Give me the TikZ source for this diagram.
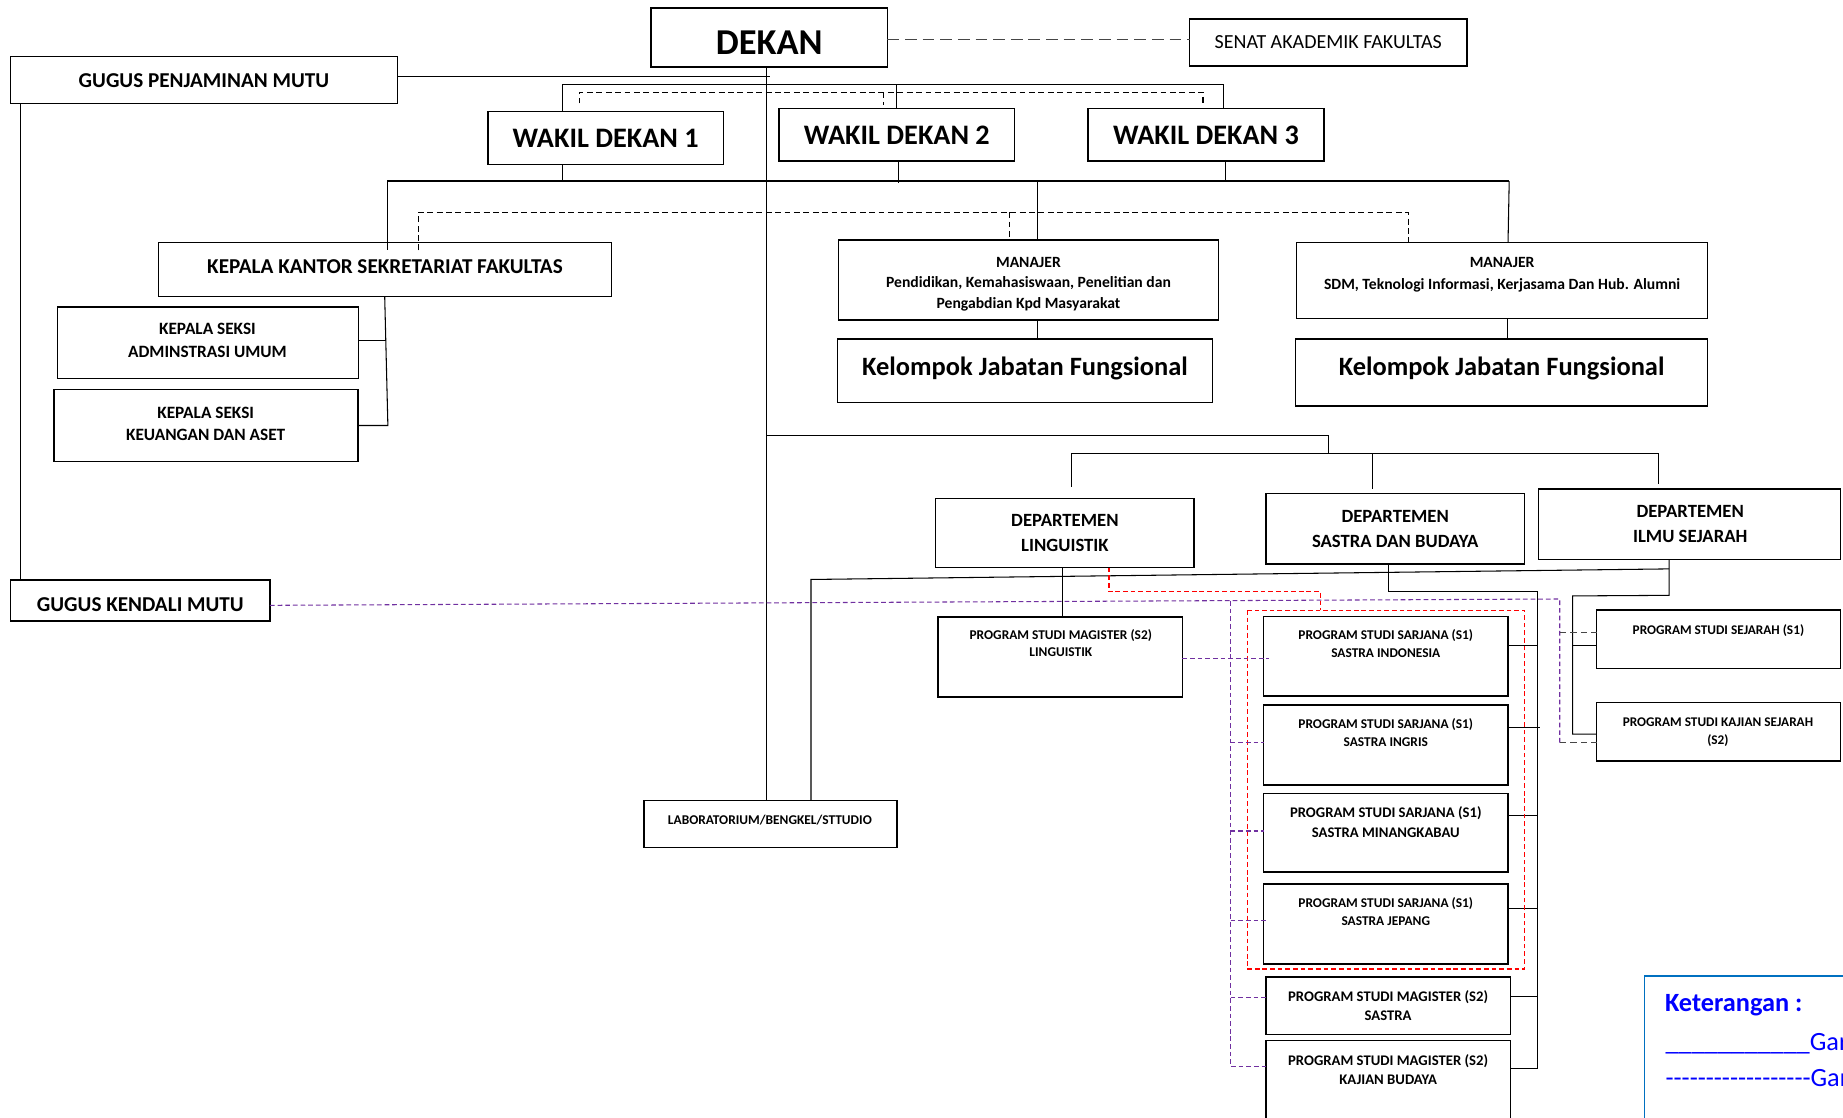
\documentclass[tikz,border=0pt]{standalone}
\usepackage{fontspec}
\setmainfont{Carlito}
\definecolor{purp}{RGB}{112,48,160}
\definecolor{redd}{RGB}{255,0,0}
\definecolor{dgray}{RGB}{70,70,70}
\definecolor{ketblue}{RGB}{0,0,255}
\definecolor{ketbox}{RGB}{0,112,192}
% box: [opts]{name}{x1}{y1}{x2}{y2}
\newcommand\bx[6][]{\node[bx, minimum width={#5-#3}, minimum height={#6-#4}, #1] (#2) at ({(#3+#5)/2},{-(#4+#6)/2}) {};}
% text line: [opts]{name}{x}{cap centre y}{size}{text}
\newcommand\tl[6][]{\node[tl, font=\fontsize{#5}{#5}\selectfont\bfseries, #1] (#2) at (#3,{-(#4+0.316*#5)}) {#6};}
\newcommand\hy{\mbox{-}}
\begin{document}
\begin{tikzpicture}[x=1pt,y=1pt,line width=0.9pt,
  bx/.style={draw, line width=1.3pt, inner sep=0pt, outer sep=0pt},
  tl/.style={anchor=base, inner sep=0pt, outer sep=0pt},
  dshtop/.style={dgray, dash pattern=on 10pt off 5pt},
  dshk/.style={black, dash pattern=on 5pt off 3pt},
  gdsh/.style={dgray, dash pattern=on 5.5pt off 3.5pt},
  pdsh/.style={purp, dash pattern=on 4pt off 2.5pt},
  rdsh/.style={redd, dash pattern=on 4pt off 2.5pt}]
\useasboundingbox (0,0) rectangle (1568,-951);
\clip (0,0) rectangle (1568,-951);

% ---------- boxes ----------
\bx{dekan}{554}{7}{755}{57}
\bx{senat}{1012}{16}{1248}{56}
\bx{gpm}{9}{48}{338}{88}
\bx{wd1}{415}{95}{615.5}{139.8}
\bx{wd2}{662.6}{92.2}{863.2}{137}
\bx{wd3}{925.8}{92.2}{1126.5}{137}
\bx{kksf}{134.8}{206.2}{520.3}{252.4}
\bx{ksadm}{48.9}{261}{305}{321.9}
\bx{kskeu}{45.9}{331.2}{304.6}{392.8}
\bx{man1}{713.5}{204.2}{1036.6}{272.3}
\bx{man2}{1103.2}{206.5}{1452.7}{270.8}
\bx{kjf1}{712.4}{288.4}{1031.6}{342.6}
\bx{kjf2}{1102.2}{288.4}{1452.7}{345.2}
\bx{gkm}{9}{493.5}{229.7}{528.4}
\bx{lab}{548}{681}{763}{721}
\bx{dling}{796}{424}{1016}{483}
\bx{dsas}{1077}{420}{1297}{480}
\bx{dsej}{1309}{416}{1566}{476}
\bx{s2ling}{798}{525}{1006}{593}
\bx{s1indo}{1075}{524.7}{1283}{592}
\bx{s1ing}{1075}{600}{1283}{668}
\bx{s1min}{1075}{675}{1283}{742}
\bx{s1jep}{1075}{752}{1283}{820}
\bx{s2sas}{1077}{831}{1285}{880}
\bx{s2kb}{1077}{885.4}{1285}{965}
\bx{sejs1}{1358.4}{519}{1566}{568.6}
\bx{kajsej}{1358.4}{597.8}{1566}{647.4}
\bx[draw=ketbox, line width=1.2pt]{ket}{1399}{830.4}{1620}{990}

% ---------- texts ----------
\tl{t-dekan}{654.5}{36.8}{31}{DEKAN}
\tl[font=\fontsize{17}{17}\selectfont]{t-senat}{1130}{35.9}{17}{SENAT AKADEMIK FAKULTAS}
\tl{t-gpm}{173.5}{68.5}{18}{GUGUS PENJAMINAN MUTU}
\tl{t-wd1}{515.3}{118}{24}{WAKIL DEKAN 1}
\tl{t-wd2}{763}{115.5}{24}{WAKIL DEKAN 2}
\tl{t-wd3}{1026}{115}{24}{WAKIL DEKAN 3}
\tl{t-kksf}{327.5}{227}{18}{KEPALA KANTOR SEKRETARIAT FAKULTAS}
\tl{t-ksadm1}{176.5}{280.3}{14.7}{KEPALA SEKSI}
\tl{t-ksadm2}{176.5}{299.5}{14.7}{ADMINSTRASI UMUM}
\tl{t-kskeu1}{175}{351}{14.7}{KEPALA SEKSI}
\tl{t-kskeu2}{175}{370.4}{14.7}{KEUANGAN DAN ASET}
\tl{t-man1a}{875}{223.3}{13.3}{MANAJER}
\tl{t-man1b}{875}{240}{13.3}{Pendidikan, Kemahasiswaan, Penelitian dan}
\tl{t-man1c}{875}{258}{13.3}{Pengabdian Kpd Masyarakat}
\tl{t-man2a}{1278}{223.8}{13.3}{MANAJER}
\tl{t-man2b}{1278}{242.5}{13.3}{SDM, Teknologi Informasi, Kerjasama Dan Hub. Alumni}
\tl{t-kjf1}{872}{312}{22.5}{Kelompok Jabatan Fungsional}
\tl{t-kjf2}{1277.5}{312}{22.5}{Kelompok Jabatan Fungsional}
\tl{t-gkm}{119.4}{514.7}{18}{GUGUS KENDALI MUTU}
\tl{t-lab}{655}{697.6}{11.4}{LABORATORIUM/BENGKEL/STTUDIO}
\tl{t-dling1}{906}{443}{15.9}{DEPARTEMEN}
\tl{t-dling2}{906}{464}{15.9}{LINGUISTIK}
\tl{t-dsas1}{1187}{439.3}{15.9}{DEPARTEMEN}
\tl{t-dsas2}{1187}{460.4}{15.9}{SASTRA DAN BUDAYA}
\tl{t-dsej1}{1438}{435}{15.9}{DEPARTEMEN}
\tl{t-dsej2}{1438}{456.3}{15.9}{ILMU SEJARAH}
\tl{t-s2ling1}{902.5}{540.7}{11.4}{PROGRAM STUDI MAGISTER (S2)}
\tl{t-s2ling2}{902.5}{555.1}{11.4}{LINGUISTIK}
\tl{t-s1indo1}{1179}{540.2}{11.4}{PROGRAM STUDI SARJANA (S1)}
\tl{t-s1indo2}{1179}{555.4}{11.4}{SASTRA INDONESIA}
\tl{t-s1ing1}{1179}{616.2}{11.4}{PROGRAM STUDI SARJANA (S1)}
\tl{t-s1ing2}{1179}{631.3}{11.4}{SASTRA INGRIS}
\tl{t-s1min1}{1179}{691.4}{12.5}{PROGRAM STUDI SARJANA (S1)}
\tl{t-s1min2}{1179}{708.3}{12.5}{SASTRA MINANGKABAU}
\tl{t-s1jep1}{1179}{768.3}{11.4}{PROGRAM STUDI SARJANA (S1)}
\tl{t-s1jep2}{1179}{783.8}{11.4}{SASTRA JEPANG}
\tl{t-s2sas1}{1181}{848.4}{12.5}{PROGRAM STUDI MAGISTER (S2)}
\tl{t-s2sas2}{1181}{864.2}{12.5}{SASTRA}
\tl{t-s2kb1}{1181}{902.3}{12.5}{PROGRAM STUDI MAGISTER (S2)}
\tl{t-s2kb2}{1181}{918.3}{12.5}{KAJIAN BUDAYA}
\tl{t-sejs1}{1462}{536}{11.3}{PROGRAM STUDI SEJARAH (S1)}
\tl{t-kajsej1}{1461.6}{614.8}{11.3}{PROGRAM STUDI KAJIAN SEJARAH}
\tl{t-kajsej2}{1461.6}{629.6}{11.3}{(S2)}
\tl[anchor=base west, text=ketblue]{t-ket}{1416.6}{853.9}{22.4}{Keterangan :}
\node[anchor=base west, inner sep=0pt, text=ketblue, font=\fontsize{22.4}{22.4}\selectfont] (t-ket1) at (1416.6,-894) {\_\_\_\_\_\_\_\_\_\_\_Gar};
\node[anchor=base west, inner sep=0pt, text=ketblue, font=\fontsize{22.4}{22.4}\selectfont] (t-ket2) at (1416.6,-924.6) {\hy\hy\hy\hy\hy\hy\hy\hy\hy\hy\hy\hy\hy\hy\hy\hy\hy\hy Gar};

% ---------- connectors ----------
\coordinate (trk) at (652.4,0);
\draw[dshtop] (dekan.east |- 0,-34) -- (senat.west |- 0,-34);
\draw (dekan.south -| trk) -- (lab.north -| trk);
\draw (gpm.east |- 0,-65) -- (655,-65);
\draw (gpm.south -| 17.5,0) -- (gkm.north -| 17.5,0);

% wakil dekan bracket
\draw (wd1.north -| 478.4,0) |- (1041,-71.7) -- (wd3.north -| 1041,0);
\draw (762.5,-71.7) -- (wd2.north -| 762.5,0);
\draw[dshk] (492.8,-88) -- (492.8,-78.6) -- (1023.5,-78.6) -- (1023.5,-88);
\draw[dshk] (751.9,-78.6) -- (751.9,-89);

% bus under wakil dekan
\draw (329.5,-154) -- (1284,-154);
\draw (wd1.south -| 478.4,0) -- (478.4,-154);
\draw (wd2.south -| 764.4,0) -- (764.4,-156);
\draw (wd3.south -| 1043,0) -- (1043,-154);
\draw (329.5,-154) -- (329.5,-213);
\draw (883,-155) -- (man1.north -| 883,0);
\draw (1284,-154) -- (man2.north -| 1283,0);
\draw[dshk] (356,-213) -- (356,-180.5) -- (1198,-180.5) -- (1198,-208);
\draw[dshk] (859,-180.5) -- (man1.north -| 859,0);

% secretariat
\draw (kksf.south -| 327.3,0) -- (330,-362) -- (kskeu.east |- 0,-362);
\draw (ksadm.east |- 0,-290) -- (328.6,-290);

% managers
\draw (man1.south -| 883,0) -- (kjf1.north -| 883,0);
\draw (man2.south -| 1282.5,0) -- (kjf2.north -| 1282.5,0);

% departments
\draw (trk |- 0,-370.5) -- (1130,-370.5) -- (1130,-385.5);
\draw (912,-385.5) -- (1411,-385.5);
\draw (912,-385.5) -- (912,-414);
\draw (1168,-385.5) -- (1168,-416);
\draw (1411,-385.5) -- (1411,-412);

\draw (dling.south -| 904,0) -- (s2ling.north -| 904,0);

% sejarah
\draw (dsej.south -| 1420,0) -- (1420,-506.5) -- (1338,-507) -- (1338,-624.5) -- (kajsej.west |- 0,-624.5);
\draw (1338,-549) -- (sejs1.west |- 0,-549);
\draw (1420,-484) -- (690,-493) -- (lab.north -| 690,0);

% sastra
\draw (dsas.south -| 1181.4,0) -- (1181.4,-503.6) -- (1308,-503.6) -- (1308,-908.7) -- (s2kb.east |- 0,-908.7);
\draw (s1indo.east |- 0,-549.3) -- (1308,-549.3);
\draw (s1ing.east |- 0,-619) -- (1310,-619);
\draw (s1min.east |- 0,-694) -- (1308,-694);
\draw (s1jep.east |- 0,-773) -- (1308,-773);
\draw (s2sas.east |- 0,-848) -- (1308,-848);

% red dashed
\draw[rdsh] (dling.south -| 943.5,0) -- (943.5,-503.5) -- (1123.6,-503.5) -- (1123.6,-519);
\draw[rdsh] (1061,-519) rectangle (1297,-824.4);

% purple / grey dashed
\draw[pdsh] (gkm.east |- 0,-515) -- (1327,-509.6) -- (1327,-632);
\draw[gdsh] (1327,-538) -- (sejs1.west |- 0,-538);
\draw[gdsh] (1327,-632) -- (kajsej.west |- 0,-632);
\draw[pdsh] (1047,-511.3) -- (1047,-907.5) -- (s2kb.west |- 0,-907.5);
\draw[pdsh] (s2ling.east |- 0,-560) -- (1079.7,-560);
\draw[pdsh] (1047,-632) -- (s1ing.west |- 0,-632);
\draw[pdsh] (1047,-707) -- (s1min.west |- 0,-707);
\draw[pdsh] (1047,-783) -- (1079,-783);
\draw[pdsh] (1047,-849) -- (s2sas.west |- 0,-849);
\end{tikzpicture}
\end{document}
